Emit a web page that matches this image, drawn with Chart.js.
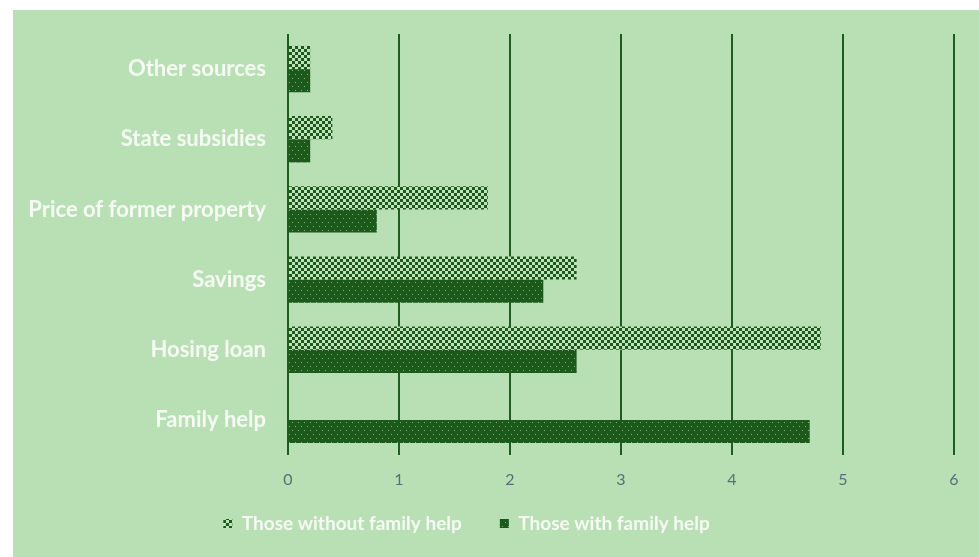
<!DOCTYPE html>
<html>
<head>
<meta charset="utf-8">
<script src="https://cdn.jsdelivr.net/npm/chart.js@4/dist/chart.umd.min.js"></script>
<style>
  html, body { margin: 0; padding: 0; background: #ffffff; }
  #panel {
    position: absolute; left: 13px; top: 10px;
    width: 966px; height: 547px;
    background: #b9dfb5;
  }
  canvas { display: block; }
</style>
</head>
<body>
<div id="panel"><canvas id="chart" width="966" height="547"></canvas></div>
<script>
// Sources of funding for buying a home, by group
const categories = [
  'Other sources',
  'State subsidies',
  'Price of former property',
  'Savings',
  'Hosing loan',
  'Family help'
];
const withoutFamilyHelp = [0.2, 0.4, 1.8, 2.6, 4.8, 0];
const withFamilyHelp    = [0.2, 0.2, 0.8, 2.3, 2.6, 4.7];
const seriesNames = ['Those without family help', 'Those with family help'];
const axisMin = 0;
const axisMax = 6;
const axisStep = 1;

const DARK = '#1c5a1c';
const LIGHT = '#bfe3ba';

// Checkerboard fill
function checkerPattern(cell) {
  const t = document.createElement('canvas');
  t.width = cell * 2; t.height = cell * 2;
  const g = t.getContext('2d');
  g.fillStyle = LIGHT; g.fillRect(0, 0, t.width, t.height);
  g.fillStyle = DARK;
  g.fillRect(0, 0, cell, cell);
  g.fillRect(cell, cell, cell, cell);
  return g.createPattern(t, 'repeat');
}

// Dark fill sprinkled with small light dots
function dottedPattern() {
  const t = document.createElement('canvas');
  t.width = 6; t.height = 8;
  const g = t.getContext('2d');
  g.fillStyle = DARK; g.fillRect(0, 0, 6, 8);
  g.fillStyle = '#7fae7b';
  g.fillRect(0, 0, 1, 1);
  g.fillRect(3, 4, 1, 1);
  return g.createPattern(t, 'repeat');
}

const ctx = document.getElementById('chart').getContext('2d');
const checker = checkerPattern(3);
const dotted = dottedPattern();

// Nudges the legend row to sit under the bars
const legendPlacement = {
  id: 'legendPlacement',
  afterLayout(chart) {
    const l = chart.legend;
    if (!l) return;
    l.left -= 17; l.right -= 17;
    l.top -= 13; l.bottom -= 13;
  }
};

new Chart(ctx, {
  type: 'bar',
  data: {
    labels: categories,
    datasets: [
      {
        label: seriesNames[0],
        data: withoutFamilyHelp,
        backgroundColor: checker,
        borderWidth: 0
      },
      {
        label: seriesNames[1],
        data: withFamilyHelp,
        backgroundColor: dotted,
        borderWidth: 0
      }
    ]
  },
  options: {
    indexAxis: 'y',
    responsive: false,
    animation: false,
    categoryPercentage: 0.66,
    barPercentage: 1.0,
    layout: { padding: { top: 24, right: 25, bottom: 1, left: 0 } },
    scales: {
      x: {
        min: axisMin,
        max: axisMax,
        ticks: {
          stepSize: axisStep,
          padding: 15,
          color: '#5b6e7b',
          font: { family: 'Lato', size: 16 }
        },
        grid: {
          color: '#1f5c1f',
          lineWidth: 2,
          drawTicks: false
        },
        border: { display: false },
        afterFit(scale) { scale.height = 34; }
      },
      y: {
        ticks: {
          padding: 22,
          color: '#f6fbf4',
          font: { family: 'Lato', size: 22, weight: 'bold' }
        },
        grid: { display: false, drawTicks: false },
        border: { display: false },
        afterFit(scale) {
          scale.width = 275;
          scale.paddingTop = 0;
          scale.paddingBottom = 0;
        }
      }
    },
    plugins: {
      tooltip: { enabled: false },
      legend: {
        position: 'bottom',
        labels: {
          boxWidth: 9,
          boxHeight: 9,
          padding: 38,
          color: '#f6fbf4',
          font: { family: 'Lato', size: 19, weight: 'bold' }
        }
      }
    }
  },
  plugins: [legendPlacement]
});
</script>
</body>
</html>
